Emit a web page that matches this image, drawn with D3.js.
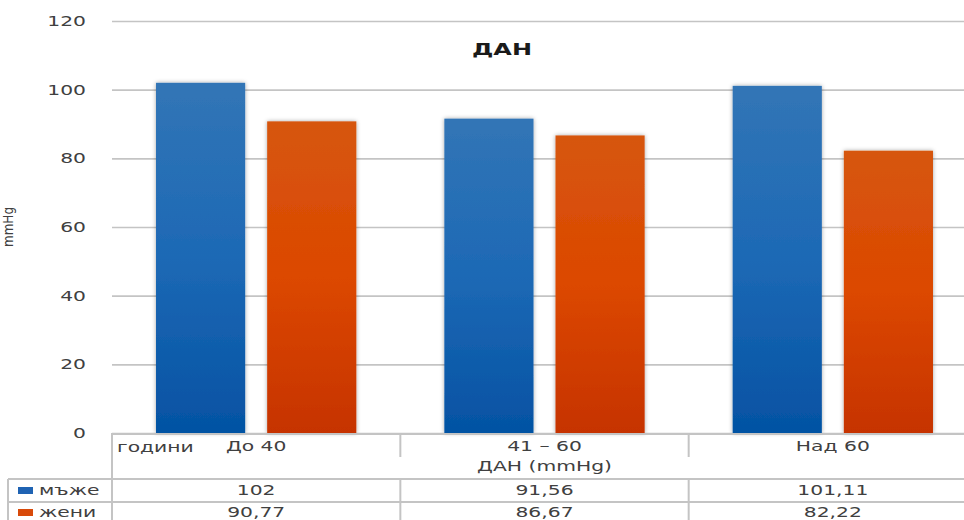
<!DOCTYPE html>
<html>
<head>
<meta charset="utf-8">
<script src="https://cdn.jsdelivr.net/npm/d3@7"></script>
<style>
  html, body { margin: 0; padding: 0; background: #fff; }
  svg { display: block; }
  text { font-family: "DejaVu Sans", Verdana, sans-serif; fill: #404040; }
</style>
</head>
<body>
<svg id="chart" width="964" height="520"></svg>
<script>
// Diastolic blood pressure (ДАН) by age group and sex
const categories = ["До 40", "41 – 60", "Над 60"];
const seriesNames = ["мъже", "жени"];
const menValues = [102, 91.56, 101.11];
const womenValues = [90.77, 86.67, 82.22];
const yTicks = [0, 20, 40, 60, 80, 100, 120];
const title = "ДАН";
const axisTitle = "mmHg";
const tableTitle = "ДАН (mmHg)";
const rowHeader = "години";

const seriesValues = [menValues, womenValues];
const svg = d3.select("#chart");
const W = 964;
const plotLeft = 112, plotRight = 977, plotTop = 21, plotBottom = 433;
const SX = 1.45; // horizontal stretch of all lettering

const y = d3.scaleLinear().domain([0, 120]).range([plotBottom, plotTop]);
const x0 = d3.scaleBand().domain(categories).range([plotLeft, plotRight]).padding(0);
const x1 = d3.scaleBand().domain(seriesNames).range([0, x0.bandwidth()])
  .paddingInner(0.198).paddingOuter(0.396);

const defs = svg.append("defs");
const grads = [
  ["gBlue", ["#3275b6", "#1d69b5", "#0452a3"]],
  ["gOrange", ["#d6560f", "#dc4800", "#c63300"]]
];
grads.forEach(([id, stops]) => {
  const g = defs.append("linearGradient").attr("id", id)
    .attr("x1", 0).attr("y1", 0).attr("x2", 0).attr("y2", 1);
  stops.forEach((c, i) => g.append("stop").attr("offset", i / (stops.length - 1)).attr("stop-color", c));
});
const sh = defs.append("filter").attr("id", "shadow")
  .attr("x", "-20%").attr("y", "-5%").attr("width", "140%").attr("height", "110%");
sh.append("feDropShadow").attr("dx", 0).attr("dy", 0).attr("stdDeviation", 2.2)
  .attr("flood-color", "#000").attr("flood-opacity", 0.35);

// stretched text helper (sx/sy in the text's own frame)
function label(sel, txt, tx, ty, anchor, opts = {}) {
  const sx = opts.sx || SX, sy = opts.sy || 1;
  const g = sel.append("g").attr("transform", `translate(${tx},${ty})${opts.rotate ? " rotate(" + opts.rotate + ")" : ""} scale(${sx},${sy})`);
  const t = g.append("text").attr("text-anchor", anchor).attr("font-size", opts.size || 14).text(txt);
  if (opts.weight) t.attr("font-weight", opts.weight);
  if (opts.fill) t.style("fill", opts.fill);
  return t;
}

// gridlines
const yAxis = d3.axisLeft(y).tickValues(yTicks).tickSize(-(W - plotLeft)).tickFormat("");
svg.append("g").attr("transform", `translate(${plotLeft},0)`).call(yAxis)
  .call(g => g.select(".domain").remove())
  .call(g => g.selectAll("line").attr("stroke", "#c4c4c4").attr("stroke-width", 1.6));

// tick labels
yTicks.forEach(v => label(svg, String(v), 86, y(v) + 5, "end"));

// title
label(svg, title, 502, 55, "middle", { size: 16, weight: "bold", sx: 1.5, fill: "#1a1a1a" });

// axis title, rotated, hugging the left edge
label(svg, axisTitle, 13, 227, "middle", { size: 12, rotate: -90, sx: 1.0, sy: 1.2 });

// bars
const groups = svg.append("g").selectAll("g").data(categories).join("g")
  .attr("transform", d => `translate(${x0(d)},0)`);
groups.selectAll("rect")
  .data((d, i) => seriesNames.map((s, j) => ({ s, j, v: seriesValues[j][i] })))
  .join("rect")
  .attr("x", d => x1(d.s))
  .attr("width", x1.bandwidth())
  .attr("y", d => y(d.v))
  .attr("height", d => y(0) - y(d.v))
  .attr("fill", d => d.j === 0 ? "url(#gBlue)" : "url(#gOrange)")
  .attr("filter", "url(#shadow)");

// data table
const lineColor = "#c4c4c4";
const tbl = svg.append("g");
const hl = (x1_, x2_, yy) => tbl.append("line").attr("x1", x1_).attr("x2", x2_).attr("y1", yy).attr("y2", yy)
  .attr("stroke", lineColor).attr("stroke-width", 2);
const vl = (xx, y1_, y2_) => tbl.append("line").attr("x1", xx).attr("x2", xx).attr("y1", y1_).attr("y2", y2_)
  .attr("stroke", lineColor).attr("stroke-width", 2);
const rowTop = 479, rowMid = 502, rowBot = 525;
hl(plotLeft, W, plotBottom + 1);
hl(8, W, rowTop);
hl(8, W, rowMid);
vl(plotLeft, plotBottom, rowBot);
vl(8, rowTop, rowBot);
categories.forEach((c, i) => {
  if (i > 0) {
    vl(x0(c), plotBottom, 457);
    vl(x0(c), rowTop, rowBot);
  }
});
label(tbl, rowHeader, 117, 452, "start");
categories.forEach(c => label(tbl, c, x0(c) + x0.bandwidth() / 2, 451, "middle"));
label(tbl, tableTitle, (plotLeft + plotRight) / 2, 471, "middle");

const fmt = v => String(v).replace(".", ",");
const keyColors = ["#1f63b3", "#d84a0a"];
seriesNames.forEach((s, j) => {
  const base = j === 0 ? 495 : 517;
  tbl.append("rect").attr("x", 18).attr("y", base - 8).attr("width", 15).attr("height", 7).attr("fill", keyColors[j]);
  label(tbl, s, 39, base, "start");
  categories.forEach((c, i) => label(tbl, fmt(seriesValues[j][i]), x0(c) + x0.bandwidth() / 2, base, "middle"));
});
</script>
</body>
</html>
